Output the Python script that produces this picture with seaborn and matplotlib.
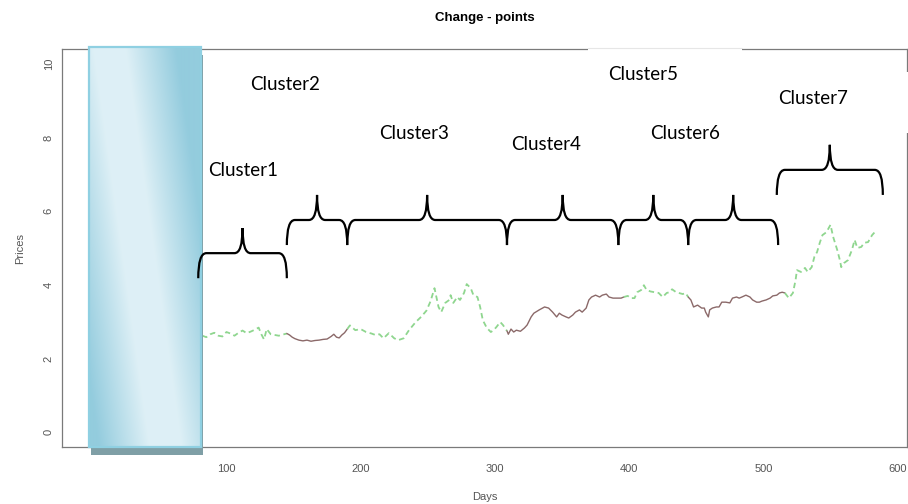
import numpy as np
import pandas as pd
import matplotlib
matplotlib.use("Agg")
import matplotlib.pyplot as plt
import seaborn as sns
from matplotlib.patches import Rectangle, PathPatch
from matplotlib.path import Path
from matplotlib.lines import Line2D

# ---- price series, one block per change-point cluster ----
c1_days = [82, 85, 88, 91, 94, 97, 100, 103, 106, 109, 112, 115, 118, 121, 124, 126, 128, 130, 133, 136, 139, 142, 145]
c1_prices = [2.62, 2.58, 2.66, 2.70, 2.62, 2.60, 2.72, 2.68, 2.62, 2.70, 2.76, 2.69, 2.73, 2.78, 2.84, 2.66, 2.52, 2.80, 2.66, 2.64, 2.62, 2.65, 2.68]

c2_days = [145, 147, 149, 151, 154, 157, 160, 163, 166, 169, 172, 175, 178, 180, 182, 184, 186, 188, 190]
c2_prices = [2.68, 2.64, 2.58, 2.54, 2.50, 2.48, 2.50, 2.47, 2.49, 2.50, 2.52, 2.53, 2.60, 2.66, 2.58, 2.56, 2.64, 2.70, 2.80]

c3_days = [190, 192, 196, 200, 204, 208, 211, 214, 217, 221, 225, 228, 232, 236, 241, 245, 249, 252, 255, 258,
           260, 263, 266, 267, 269, 272, 274, 277, 279, 282, 284, 287, 289, 291, 294, 297, 299, 301, 304, 306, 309]
c3_prices = [2.80, 2.90, 2.77, 2.80, 2.72, 2.68, 2.64, 2.66, 2.55, 2.69, 2.55, 2.50, 2.55, 2.77, 2.99, 3.13, 3.30, 3.55, 3.91, 3.40,
             3.26, 3.51, 3.59, 3.72, 3.51, 3.67, 3.59, 3.78, 4.02, 3.91, 3.72, 3.67, 3.40, 3.04, 2.83, 2.72, 2.77, 2.85, 2.99, 2.91, 2.75]

c4_days = [309, 310, 312, 314, 316, 319, 322, 324, 327, 329, 333, 337, 340, 343, 346, 348, 350, 353, 355, 358,
           360, 363, 365, 368, 370, 372, 375, 378, 380, 383, 385, 388, 391, 394, 396]
c4_prices = [2.75, 2.66, 2.80, 2.72, 2.77, 2.74, 2.83, 2.91, 3.13, 3.23, 3.32, 3.40, 3.37, 3.26, 3.13, 3.23, 3.18, 3.13, 3.10, 3.18,
             3.26, 3.32, 3.26, 3.37, 3.59, 3.67, 3.72, 3.67, 3.72, 3.75, 3.67, 3.64, 3.64, 3.64, 3.67]

c5_days = [396, 399, 401, 404, 406, 409, 411, 413, 416, 419, 422, 425, 428, 430, 432, 435, 437, 440, 442, 444]
c5_prices = [3.67, 3.70, 3.64, 3.64, 3.80, 3.86, 3.99, 3.86, 3.82, 3.80, 3.78, 3.67, 3.78, 3.80, 3.88, 3.80, 3.78, 3.75, 3.78, 3.67]

c6_days = [444, 446, 448, 451, 454, 456, 457, 459, 460, 462, 465, 467, 469, 472, 475, 477, 480, 482, 484, 487,
           490, 492, 495, 497, 499, 502, 505, 507, 510, 512, 514, 516]
c6_prices = [3.67, 3.59, 3.40, 3.45, 3.37, 3.37, 3.26, 3.13, 3.32, 3.37, 3.40, 3.40, 3.53, 3.53, 3.51, 3.64, 3.67, 3.64, 3.67, 3.72,
             3.67, 3.59, 3.53, 3.53, 3.56, 3.59, 3.64, 3.70, 3.72, 3.78, 3.80, 3.78]

c7_days = [516, 519, 522, 524, 525, 528, 531, 533, 536, 538, 540, 542, 544, 547, 550, 552, 555, 557, 558, 560,
           563, 566, 568, 570, 573, 575, 578, 581, 583]
c7_prices = [3.78, 3.64, 3.78, 4.13, 4.40, 4.35, 4.46, 4.35, 4.48, 4.76, 4.89, 5.14, 5.35, 5.43, 5.63, 5.30, 4.95, 4.67, 4.48, 4.59,
             4.67, 4.95, 5.22, 5.00, 5.03, 5.14, 5.16, 5.35, 5.43]

cluster_names = ["Cluster1", "Cluster2", "Cluster3", "Cluster4", "Cluster5", "Cluster6", "Cluster7"]
brace_spans = [(79, 145), (145, 190), (190, 309), (309, 392), (392, 444), (444, 511), (510, 589)]
brace_bars = [4.86, 5.76, 5.76, 5.76, 5.76, 5.76, 7.12]

x_ticks = [0, 100, 200, 300, 400, 500, 600]
x_tick_labels = ["", "100", "200", "300", "400", "500", "600"]
y_ticks = [0, 2, 4, 6, 8, 10]
y_tick_labels = ["0", "2", "4", "6", "8", "10"]

GREEN = "#8fd68f"
BROWN = "#8b6969"
AXIS_GREY = "#7a7a7a"
TEXT_GREY = "#555555"

sns.set_theme(style="white")
plt.rcParams["font.family"] = ["Liberation Sans", "DejaVu Sans"]

W, H = 908, 504
fig = plt.figure(figsize=(W / 100, H / 100), dpi=100)
fig.patch.set_facecolor("white")
ax = fig.add_axes([62 / W, 1 - 447 / H, 845 / W, 398 / H])
ax.set_facecolor("white")

all_days = [c1_days, c2_days, c3_days, c4_days, c5_days, c6_days, c7_days]
all_prices = [c1_prices, c2_prices, c3_prices, c4_prices, c5_prices, c6_prices, c7_prices]
df = pd.concat(
    [pd.DataFrame({"Days": d, "Prices": p, "cluster": i + 1}) for i, (d, p) in enumerate(zip(all_days, all_prices))],
    ignore_index=True,
)

for cid, seg in df.groupby("cluster"):
    if cid % 2 == 1:
        sns.lineplot(data=seg, x="Days", y="Prices", ax=ax, color=GREEN, linewidth=1.3,
                     linestyle=(0, (3, 2)), sort=False, estimator=None, zorder=2)
    else:
        sns.lineplot(data=seg, x="Days", y="Prices", ax=ax, color=BROWN, linewidth=1.0,
                     sort=False, estimator=None, zorder=2)

XMIN, XMAX = -22.5, 607
YMIN, YMAX = -0.4, 10.4
ax.set_xlim(XMIN, XMAX)
ax.set_ylim(YMIN, YMAX)

# frame and ticks in base-R style
for s in ax.spines.values():
    s.set_visible(True)
    s.set_color(AXIS_GREY)
    s.set_linewidth(0.9)
ax.set_xticks(x_ticks)
ax.set_xticklabels(x_tick_labels)
ax.set_yticks(y_ticks)
ax.set_yticklabels(y_tick_labels, rotation=90, va="center")
ax.tick_params(axis="both", direction="out", length=4, width=0.8, color=AXIS_GREY,
               labelcolor=TEXT_GREY, labelsize=8)
ax.tick_params(axis="x", pad=8)
ax.tick_params(axis="y", pad=2)
ax.set_xlabel("")
ax.set_ylabel("")

# shaded panel over the warm-up window
px_day = 1.342
px_price = 36.9
rx0, rx1 = -2.7, 80.8
ry0, ry1 = YMIN, YMAX + 0.05
shadow = Rectangle((rx0 + 2 / px_day, ry0 - 8 / px_price), rx1 - rx0, ry1 - ry0,
                   facecolor="#7f9fa6", edgecolor="none", zorder=2.8, clip_on=False)
ax.add_patch(shadow)
nx, ny = 200, 400
X, Y = np.meshgrid(np.linspace(0, 1, nx), np.linspace(0, 1, ny))
band = 0.68 - 0.5 * Y
t = np.clip((np.abs(X - band) - 0.14) / 0.45, 0, 1)[..., None]
light = np.array([0.87, 0.94, 0.965])
dark = np.array([0.58, 0.80, 0.87])
img = light * (1 - t) + dark * t
ax.imshow(img, extent=[rx0, rx1, ry0, ry1], origin="lower", aspect="auto",
          interpolation="bilinear", zorder=3, clip_on=False)
ax.add_patch(Rectangle((rx0, ry0), rx1 - rx0, ry1 - ry0, facecolor="none",
                       edgecolor="#8fd0e2", linewidth=1.6, zorder=3.5, clip_on=False))
ax.set_xlim(XMIN, XMAX)
ax.set_ylim(YMIN, YMAX)


def curly_brace(a, x0, x1, ybar, depth=0.68, r=6.0, color="black", lw=1.6):
    xm = (x0 + x1) / 2
    verts = [
        (x0, ybar - depth), (x0, ybar), (x0 + r, ybar),
        (xm - r, ybar),
        (xm, ybar), (xm, ybar + depth),
        (xm, ybar), (xm + r, ybar),
        (x1 - r, ybar),
        (x1, ybar), (x1, ybar - depth),
    ]
    codes = [Path.MOVETO, Path.CURVE3, Path.CURVE3, Path.LINETO,
             Path.CURVE3, Path.CURVE3, Path.CURVE3, Path.CURVE3,
             Path.LINETO, Path.CURVE3, Path.CURVE3]
    a.add_patch(PathPatch(Path(verts, codes), facecolor="none", edgecolor=color,
                          linewidth=lw, zorder=5, clip_on=False, capstyle="butt"))


for (b0, b1), yb in zip(brace_spans, brace_bars):
    curly_brace(ax, b0, b1, yb)

# cluster captions (left edge, baseline) in figure pixels
label_pos = [(208, 176), (250, 90), (379, 139), (511, 150), (608, 79.5), (650, 139), (778, 104)]
for name, (lx, ly) in zip(cluster_names, label_pos):
    fig.text(lx / W, 1 - ly / H, name, fontsize=13.5, family=["Lato", "DejaVu Sans"],
             color="black", ha="left", va="baseline", zorder=6)

# caption boxes hide bits of the frame
fig.add_artist(Rectangle((588 / W, 1 - 53 / H), (742 - 588) / W, 8 / H, transform=fig.transFigure,
                         facecolor="white", edgecolor="none", zorder=10))
fig.add_artist(Line2D([588 / W, 742 / W], [1 - 48 / H, 1 - 48 / H], transform=fig.transFigure,
                      color="#e6e6e6", linewidth=0.8, zorder=11))
fig.add_artist(Rectangle((900 / W, 1 - 133 / H), 8 / W, 61 / H, transform=fig.transFigure,
                         facecolor="white", edgecolor="none", zorder=10))

fig.text(484.5 / W, 1 - 18 / H, "Change - points", ha="center", va="center",
         fontsize=9.5, fontweight="bold", color="black")
fig.text(484.5 / W, 1 - 497 / H, "Days", ha="center", va="center", fontsize=8, color=TEXT_GREY)
fig.text(20 / W, 1 - 248 / H, "Prices", ha="center", va="center", rotation=90, fontsize=8, color=TEXT_GREY)

fig.savefig("out.png", dpi=100, facecolor="white")
